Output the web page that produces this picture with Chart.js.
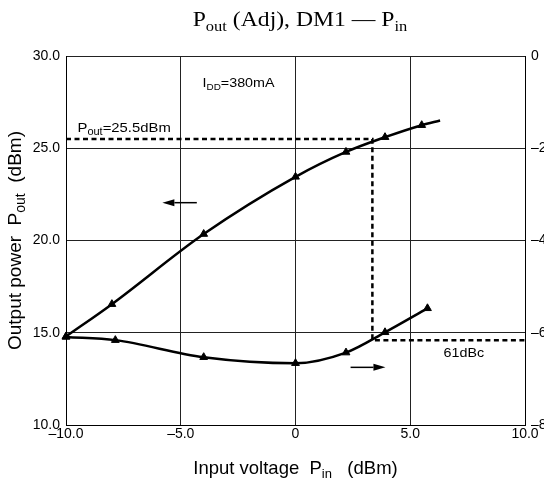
<!DOCTYPE html>
<html>
<head>
<meta charset="utf-8">
<script src="https://cdn.jsdelivr.net/npm/chart.js@4/dist/chart.umd.min.js"></script>
<style>
  html, body { margin: 0; padding: 0; background: #fff; overflow: hidden; }
  canvas { display: block; }
</style>
</head>
<body>
<canvas id="chart" width="544" height="483"></canvas>
<script>
// Pout vs Pin (left axis, dBm)
const pinPout = [-10, -8, -4, 0, 2.2, 3.9, 5.5, 6.3];
const poutValues = [14.8, 16.55, 20.35, 23.45, 24.8, 25.6, 26.25, 26.5];
const poutMarkers = [true, true, true, true, true, true, true, false];

// adjacent channel power vs Pin (right axis, dBc)
const pinAdj = [-10, -7.85, -4, 0, 2.2, 3.9, 5.75];
const adjValues = [-60.9, -61.6, -65.3, -66.6, -64.3, -59.9, -54.7];

// dashed guide: Pout = 25.5 dBm -> 61 dBc
const guidePin = [-10, 3.35, 3.35, 10];
const guideLevel = [25.5, 25.5, 14.6, 14.6];

const xTickValues = [-10, -5, 0, 5, 10];
const xTickLabels = ['\u201310.0', '\u20135.0', '0', '5.0', '10.0'];
const yTickValues = [10, 15, 20, 25, 30];
const yTickLabels = ['10.0', '15.0', '20.0', '25.0', '30.0'];
const y2TickValues = [-80, -60, -40, -20, 0];
const y2TickLabels = ['\u201380', '\u201360', '\u201340', '\u201320', '0'];

const SANS = "'Liberation Sans', Arial, sans-serif";
const SERIF = "'Liberation Serif', 'Times New Roman', serif";

const toPoints = (xs, ys) => xs.map((x, i) => ({ x, y: ys[i] }));

// text with subscripts: parts = [[text, isSub], ...]
function drawRich(ctx, parts, x, y, opt) {
  const size = opt.size;
  const subSize = Math.round(size * 0.72);
  const family = opt.family || SANS;
  const stretch = opt.stretch || 1;
  let w = 0;
  const widths = parts.map(([t, sub]) => {
    ctx.font = (sub ? subSize : size) + 'px ' + family;
    const m = ctx.measureText(t).width;
    w += m;
    return m;
  });
  ctx.save();
  ctx.translate(x, y);
  if (opt.rotate) ctx.rotate(-Math.PI / 2);
  ctx.scale(stretch, 1);
  ctx.fillStyle = '#000';
  ctx.textBaseline = 'alphabetic';
  ctx.textAlign = 'left';
  let cx = opt.align === 'center' ? -w / 2 : 0;
  parts.forEach(([t, sub], i) => {
    ctx.font = (sub ? subSize : size) + 'px ' + family;
    ctx.fillText(t, cx, sub ? size * 0.22 : 0);
    cx += widths[i];
  });
  ctx.restore();
}

function arrow(ctx, x1, y1, x2, y2) {
  const head = 12, half = 3.5;
  const dir = Math.sign(x2 - x1);
  ctx.save();
  ctx.strokeStyle = '#000';
  ctx.fillStyle = '#000';
  ctx.lineWidth = 1.5;
  ctx.beginPath();
  ctx.moveTo(x1, y1);
  ctx.lineTo(x2 - dir * head, y2);
  ctx.stroke();
  ctx.beginPath();
  ctx.moveTo(x2, y2);
  ctx.lineTo(x2 - dir * head, y2 - half);
  ctx.lineTo(x2 - dir * head, y2 + half);
  ctx.closePath();
  ctx.fill();
  ctx.restore();
}

const labelsPlugin = {
  id: 'labels',
  afterDraw(chart) {
    const ctx = chart.ctx;
    const { x, y, y2 } = chart.scales;
    const area = chart.chartArea;

    // title
    drawRich(ctx, [['P', false], ['out', true], [' (Adj), DM1 \u2014 P', false], ['in', true]],
      300, 26, { size: 21.5, family: SERIF, align: 'center', stretch: 1.1 });

    // axis titles
    drawRich(ctx, [['Input voltage  P', false], ['in', true], ['   (dBm)', false]],
      (area.left + area.right) / 2, 474, { size: 18.5, align: 'center' });
    drawRich(ctx, [['Output power  P', false], ['out', true], ['  (dBm)', false]],
      21, (area.top + area.bottom) / 2, { size: 19, align: 'center', rotate: true });

    // annotations
    drawRich(ctx, [['I', false], ['DD', true], ['=380mA', false]],
      x.getPixelForValue(-4.05), y.getPixelForValue(28.3), { size: 13, stretch: 1.1 });
    drawRich(ctx, [['P', false], ['out', true], ['=25.5dBm', false]],
      x.getPixelForValue(-9.5), y.getPixelForValue(25.9), { size: 13.5, stretch: 1.1 });
    drawRich(ctx, [['61dBc', false]],
      x.getPixelForValue(6.45), y2.getPixelForValue(-65.2), { size: 13, stretch: 1.1 });

    arrow(ctx, x.getPixelForValue(-4.3), y.getPixelForValue(22.05),
      x.getPixelForValue(-5.8), y.getPixelForValue(22.05));
    arrow(ctx, x.getPixelForValue(2.4), y2.getPixelForValue(-67.5),
      x.getPixelForValue(3.92), y2.getPixelForValue(-67.5));
  }
};

const gridColor = '#222';
const tickFont = { family: SANS, size: 14 };

new Chart(document.getElementById('chart').getContext('2d'), {
  type: 'line',
  data: {
    datasets: [
      {
        label: 'Pout',
        data: toPoints(pinPout, poutValues),
        yAxisID: 'y',
        borderColor: '#000',
        backgroundColor: '#000',
        borderWidth: 2.5,
        pointStyle: 'triangle',
        pointRadius: poutMarkers.map((m) => (m ? 4.5 : 0)),
        pointBorderWidth: 1,
        cubicInterpolationMode: 'monotone',
        clip: false,
      },
      {
        label: 'Adjacent',
        data: toPoints(pinAdj, adjValues),
        yAxisID: 'y2',
        borderColor: '#000',
        backgroundColor: '#000',
        borderWidth: 2.5,
        pointStyle: 'triangle',
        pointRadius: 4.5,
        pointBorderWidth: 1,
        cubicInterpolationMode: 'monotone',
        clip: false,
      },
      {
        label: 'Guide',
        data: toPoints(guidePin, guideLevel),
        yAxisID: 'y',
        borderColor: '#000',
        borderWidth: 2.5,
        borderDash: [5, 3.5],
        pointRadius: 0,
        tension: 0,
        clip: false,
      },
    ],
  },
  options: {
    responsive: false,
    animation: false,
    events: [],
    layout: { padding: { top: 56, left: 0, right: 0, bottom: 0 } },
    plugins: {
      legend: { display: false },
      title: { display: false },
      tooltip: { enabled: false },
    },
    scales: {
      x: {
        type: 'linear',
        min: -10,
        max: 10,
        afterFit: (s) => { s.height = 58; },
        afterBuildTicks: (s) => { s.ticks = xTickValues.map((v) => ({ value: v })); },
        ticks: {
          color: '#000',
          font: tickFont,
          padding: 1,
          maxRotation: 0,
          callback: (v) => xTickLabels[xTickValues.indexOf(v)],
        },
        grid: { color: gridColor, lineWidth: 1, drawTicks: false },
        border: { color: '#000', width: 1 },
      },
      y: {
        position: 'left',
        min: 10,
        max: 30,
        afterFit: (s) => { s.width = 66; },
        afterBuildTicks: (s) => { s.ticks = yTickValues.map((v) => ({ value: v })); },
        ticks: {
          color: '#000',
          font: tickFont,
          padding: 6,
          callback: (v) => yTickLabels[yTickValues.indexOf(v)],
        },
        grid: { color: gridColor, lineWidth: 1, drawTicks: false },
        border: { color: '#000', width: 1 },
      },
      y2: {
        position: 'right',
        min: -80,
        max: 0,
        afterFit: (s) => { s.width = 19; },
        afterBuildTicks: (s) => { s.ticks = y2TickValues.map((v) => ({ value: v })); },
        ticks: {
          color: '#000',
          font: tickFont,
          padding: 6,
          callback: (v) => y2TickLabels[y2TickValues.indexOf(v)],
        },
        grid: { drawOnChartArea: false, drawTicks: false },
        border: { color: '#000', width: 1 },
      },
    },
  },
  plugins: [labelsPlugin],
});
</script>
</body>
</html>
